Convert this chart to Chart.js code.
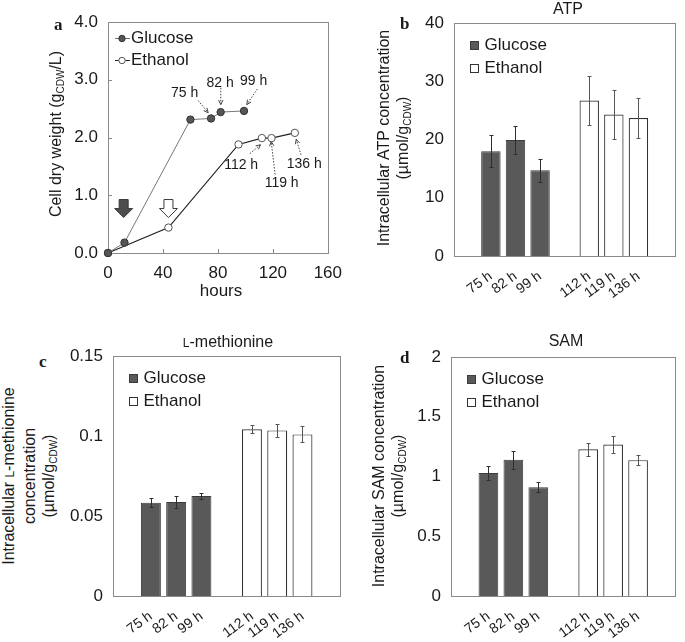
<!DOCTYPE html>
<html lang="en">
<head>
<meta charset="UTF-8">
<title>Cell growth and intracellular ATP, L-methionine and SAM</title>
<script src="https://cdn.jsdelivr.net/npm/chart.js@4"></script>
<style>
  body { margin: 0; background: #fff; }
  #fig { position: relative; width: 685px; height: 642px; font-family: "Liberation Sans", Arial, sans-serif; color: #1a1a1a; }
  #fig canvas { position: absolute; }
  .lbl { position: absolute; font-family: "Liberation Serif", "Times New Roman", serif; font-weight: bold; font-size: 17px; line-height: 17px; }
  .ttl { position: absolute; width: 200px; font-size: 16px; line-height: 16px; text-align: center; white-space: nowrap; }
  .ytitle { position: absolute; font-size: 16px; line-height: 19px; text-align: center; white-space: nowrap; transform: rotate(-90deg); }
  .sc { font-size: 12px; }
  sub { font-size: 10px; vertical-align: -3px; line-height: 0; }
</style>
</head>
<body>
<div id="fig">
  <canvas id="growth" width="290" height="300" style="left:62px;top:0px"></canvas>
  <canvas id="atp" width="275" height="300" style="left:410px;top:0px"></canvas>
  <canvas id="met" width="285" height="312" style="left:65px;top:330px"></canvas>
  <canvas id="sam" width="280" height="312" style="left:405px;top:330px"></canvas>

  <div class="lbl" style="left:54px;top:16px">a</div>
  <div class="lbl" style="left:400px;top:15px">b</div>
  <div class="lbl" style="left:39px;top:353px">c</div>
  <div class="lbl" style="left:400px;top:349px">d</div>

  <div class="ttl" style="left:468px;top:1px">ATP</div>
  <div class="ttl" style="left:128px;top:334px"><span class="sc">L</span>-methionine</div>
  <div class="ttl" style="left:466px;top:333px">SAM</div>
  <div class="ttl" style="left:121px;top:283px;font-size:17px">hours</div>

  <div class="ytitle" style="left:-74px;top:124px;width:260px;height:20px">Cell dry weight (g<sub>CDW</sub>/L)</div>
  <div class="ytitle" style="left:263px;top:119px;width:260px;height:38px">Intracellular ATP concentration<br>(µmol/g<sub>CDW</sub>)</div>
  <div class="ytitle" style="left:-102px;top:447px;width:260px;height:58px">Intracellular <span class="sc">L</span>-methionine<br>concentration<br>(µmol/g<sub>CDW</sub>)</div>
  <div class="ytitle" style="left:258px;top:457px;width:260px;height:38px">Intracellular SAM concentration<br>(µmol/g<sub>CDW</sub>)</div>
</div>

<script>
// growth curves (panel a)
const glucoseHours = [0, 12, 60, 75, 82, 99];
const glucoseCdw = [0, 0.18, 2.31, 2.33, 2.44, 2.46];
const ethanolHours = [0, 44, 95, 112, 119, 136];
const ethanolCdw = [0, 0.44, 1.88, 1.99, 1.99, 2.08];

// sampling points for the bar panels
const glucoseSamples = ['75 h', '82 h', '99 h'];
const ethanolSamples = ['112 h', '119 h', '136 h'];

const atpGlucose = [18.0, 19.9, 14.7];
const atpGlucoseSd = [2.8, 2.4, 1.95];
const atpEthanol = [26.7, 24.3, 23.7];
const atpEthanolSd = [4.2, 4.15, 3.45];

const metGlucose = [0.0583, 0.0587, 0.0625];
const metGlucoseSd = [0.0028, 0.0036, 0.002];
const metEthanol = [0.1042, 0.1035, 0.101];
const metEthanolSd = [0.0026, 0.004, 0.005];

const samGlucose = [1.03, 1.14, 0.91];
const samGlucoseSd = [0.061, 0.074, 0.04];
const samEthanol = [1.227, 1.268, 1.137];
const samEthanolSd = [0.056, 0.068, 0.042];

const FONT = '"Liberation Sans", Arial, sans-serif';
Chart.defaults.font.family = FONT;
Chart.defaults.color = '#1a1a1a';
Chart.defaults.animation = false;

// box around the plot area, optional inward ticks
const frame = {
  id: 'frame',
  beforeDatasetsDraw(chart, args, opts) {
    const { ctx, chartArea: a } = chart;
    ctx.save();
    ctx.strokeStyle = '#8a8a8a';
    ctx.lineWidth = 1;
    ctx.strokeRect(Math.round(a.left) + 0.5, Math.round(a.top) + 0.5,
      Math.round(a.right - a.left), Math.round(a.bottom - a.top));
    if (opts.ticks) {
      ctx.beginPath();
      chart.scales.x.ticks.forEach(t => {
        const px = Math.round(chart.scales.x.getPixelForValue(t.value)) + 0.5;
        ctx.moveTo(px, a.bottom); ctx.lineTo(px, a.bottom - 4);
      });
      chart.scales.y.ticks.forEach(t => {
        const py = Math.round(chart.scales.y.getPixelForValue(t.value)) + 0.5;
        ctx.moveTo(a.left, py); ctx.lineTo(a.left + 4, py);
      });
      ctx.stroke();
    }
    ctx.restore();
  }
};

// error bars from dataset.errors
const errorBars = {
  id: 'errorBars',
  afterDatasetsDraw(chart) {
    const ctx = chart.ctx, y = chart.scales.y;
    chart.data.datasets.forEach((ds, i) => {
      if (!ds.errors) return;
      const meta = chart.getDatasetMeta(i);
      ctx.save();
      ctx.strokeStyle = ds.errorColor;
      ctx.lineWidth = 1;
      ctx.beginPath();
      meta.data.forEach((bar, j) => {
        const v = ds.data[j], e = ds.errors[j];
        if (v == null || e == null) return;
        const x = Math.round(bar.x) + 0.5;
        const top = Math.round(y.getPixelForValue(v + e)) + 0.5;
        const bot = Math.round(y.getPixelForValue(v - e)) + 0.5;
        ctx.moveTo(x, top); ctx.lineTo(x, bot);
        ctx.moveTo(x - 2, top); ctx.lineTo(x + 2, top);
        ctx.moveTo(x - 2, bot); ctx.lineTo(x + 2, bot);
      });
      ctx.stroke();
      ctx.restore();
    });
  }
};

// legend drawn inside the plot, top left
const insideLegend = {
  id: 'insideLegend',
  afterDatasetsDraw(chart, args, opts) {
    const { ctx, chartArea: a } = chart;
    ctx.save();
    ctx.font = '17px ' + FONT;
    ctx.textBaseline = 'middle';
    chart.data.datasets.forEach((ds, i) => {
      const cy = a.top + opts.rows[i];
      if (chart.config.type === 'line') {
        const mx = a.left + opts.markX;
        ctx.strokeStyle = ds.borderColor;
        ctx.lineWidth = 1;
        ctx.beginPath();
        ctx.moveTo(mx - 7, cy); ctx.lineTo(mx + 8, cy);
        ctx.stroke();
        ctx.beginPath();
        ctx.arc(mx, cy, 3.2, 0, Math.PI * 2);
        ctx.fillStyle = ds.pointBackgroundColor;
        ctx.fill();
        ctx.strokeStyle = ds.pointBorderColor;
        ctx.stroke();
      } else {
        const bx = Math.round(a.left + opts.markX) + 0.5;
        const by = Math.round(cy - 5) + 0.5;
        ctx.fillStyle = ds.backgroundColor;
        ctx.fillRect(bx, by, 8, 8);
        ctx.strokeStyle = ds.borderColor;
        ctx.lineWidth = 1;
        ctx.strokeRect(bx, by, 8, 8);
      }
      ctx.fillStyle = '#1a1a1a';
      ctx.fillText(ds.label, a.left + opts.textX, cy);
    });
    ctx.restore();
  }
};

// sample-time notes and feed arrows on the growth curve
const growthNotes = {
  id: 'growthNotes',
  afterDatasetsDraw(chart, args, opts) {
    const { ctx } = chart, sx = chart.scales.x, sy = chart.scales.y;
    const P = (d) => [sx.getPixelForValue(d[0]), sy.getPixelForValue(d[1])];
    ctx.save();
    ctx.font = '14px ' + FONT;
    ctx.textAlign = 'center';
    ctx.textBaseline = 'middle';
    opts.notes.forEach(n => {
      const [tx, ty] = P(n.at);
      ctx.fillStyle = '#1a1a1a';
      ctx.fillText(n.text, tx, ty);
      const [x1, y1] = P(n.from), [x2, y2] = P(n.to);
      ctx.strokeStyle = '#444';
      ctx.lineWidth = 1;
      ctx.setLineDash([1.5, 1.5]);
      ctx.beginPath(); ctx.moveTo(x1, y1); ctx.lineTo(x2, y2); ctx.stroke();
      ctx.setLineDash([]);
      const ang = Math.atan2(y2 - y1, x2 - x1);
      ctx.beginPath();
      ctx.moveTo(x2 - 5 * Math.cos(ang - 0.45), y2 - 5 * Math.sin(ang - 0.45));
      ctx.lineTo(x2, y2);
      ctx.lineTo(x2 - 5 * Math.cos(ang + 0.45), y2 - 5 * Math.sin(ang + 0.45));
      ctx.stroke();
    });
    opts.feeds.forEach(f => {
      const [cx, cy] = P(f.at);
      ctx.beginPath();
      ctx.moveTo(cx - 4.5, cy - 9);
      ctx.lineTo(cx + 4.5, cy - 9);
      ctx.lineTo(cx + 4.5, cy);
      ctx.lineTo(cx + 9, cy);
      ctx.lineTo(cx, cy + 9);
      ctx.lineTo(cx - 9, cy);
      ctx.lineTo(cx - 4.5, cy);
      ctx.closePath();
      ctx.fillStyle = f.fill;
      ctx.fill();
      ctx.strokeStyle = '#3a3a3a';
      ctx.lineWidth = 1;
      ctx.stroke();
    });
    ctx.restore();
  }
};

const pts = (xs, ys) => xs.map((x, i) => ({ x, y: ys[i] }));

new Chart(document.getElementById('growth'), {
  type: 'line',
  data: {
    datasets: [{
      label: 'Glucose',
      data: pts(glucoseHours, glucoseCdw),
      borderColor: '#777',
      borderWidth: 1,
      pointBackgroundColor: '#555',
      pointBorderColor: '#333',
      pointRadius: 3.7,
      pointBorderWidth: 1,
      clip: false
    }, {
      label: 'Ethanol',
      data: pts(ethanolHours, ethanolCdw),
      borderColor: '#222',
      borderWidth: 1.2,
      pointBackgroundColor: '#fff',
      pointBorderColor: '#555',
      pointRadius: 3.7,
      pointBorderWidth: 1,
      clip: false
    }]
  },
  options: {
    responsive: false,
    devicePixelRatio: 1,
    layout: { padding: { left: 0, right: 18, top: 22, bottom: 0 } },
    scales: {
      x: {
        type: 'linear', min: 0, max: 160,
        grid: { display: false, drawTicks: false }, border: { display: false },
        ticks: { stepSize: 40, padding: 10, font: { size: 17 }, maxRotation: 0 },
        afterFit: s => { s.height = 47; }
      },
      y: {
        min: 0, max: 4,
        grid: { display: false, drawTicks: false }, border: { display: false },
        ticks: { stepSize: 1, padding: 10, font: { size: 17 }, callback: v => v.toFixed(1) },
        afterFit: s => { s.width = 46; }
      }
    },
    plugins: {
      legend: { display: false },
      tooltip: { enabled: false },
      frame: { ticks: true },
      insideLegend: { rows: [16.5, 38.5], markX: 14, textX: 23 },
      growthNotes: {
        notes: [
          { text: '75 h', at: [55.8, 2.77], from: [65.6, 2.64], to: [72.9, 2.43] },
          { text: '82 h', at: [81.6, 2.94], from: [82.1, 2.86], to: [82.1, 2.57] },
          { text: '99 h', at: [106, 2.97], from: [108.7, 2.84], to: [101, 2.57] },
          { text: '112 h', at: [96.9, 1.53], from: [103.3, 1.72], to: [111, 1.875] },
          { text: '119 h', at: [126.4, 1.21], from: [121.6, 1.36], to: [118.8, 1.93] },
          { text: '136 h', at: [142.8, 1.54], from: [140.5, 1.7], to: [137, 1.97] }
        ],
        feeds: [
          { at: [11.4, 0.77], fill: '#4d4d4d' },
          { at: [44, 0.77], fill: '#fff' }
        ]
      }
    }
  },
  plugins: [frame, insideLegend, growthNotes]
});

// bar panels: glucose group, gap, ethanol group, with an empty slot at each end
function barPanel(id, glc, glcSd, eth, ethSd, yMax, yStep, fmt, yWidth, pad) {
  const blank = [null, null, null];
  const labels = ['', ...glucoseSamples, '', ...ethanolSamples, ''];
  return new Chart(document.getElementById(id), {
    type: 'bar',
    data: {
      labels,
      datasets: [{
        label: 'Glucose',
        data: [null, ...glc, null, ...blank, null],
        errors: [null, ...glcSd, null, ...blank, null],
        backgroundColor: '#595959',
        borderColor: '#3c3c3c',
        borderWidth: 1,
        errorColor: '#2e2e2e',
        grouped: false,
        barPercentage: 0.79,
        categoryPercentage: 1
      }, {
        label: 'Ethanol',
        data: [null, ...blank, null, ...eth, null],
        errors: [null, ...blank, null, ...ethSd, null],
        backgroundColor: '#fff',
        borderColor: '#333',
        borderWidth: 1.2,
        errorColor: '#555',
        grouped: false,
        barPercentage: 0.79,
        categoryPercentage: 1
      }]
    },
    options: {
      responsive: false,
      devicePixelRatio: 1,
      layout: { padding: { left: 0, right: pad.right, top: pad.top, bottom: 0 } },
      scales: {
        x: {
          grid: { display: false, drawTicks: false }, border: { display: false },
          ticks: { padding: 12, font: { size: 14 }, minRotation: 36, maxRotation: 36, autoSkip: false },
          afterFit: s => { s.height = pad.xh; }
        },
        y: {
          min: 0, max: yMax,
          grid: { display: false, drawTicks: false }, border: { display: false },
          ticks: { stepSize: yStep, padding: 10, font: { size: 17 }, callback: fmt },
          afterFit: s => { s.width = yWidth; }
        }
      },
      plugins: {
        legend: { display: false },
        tooltip: { enabled: false },
        frame: { ticks: false },
        insideLegend: { rows: [22.8, 45.5], markX: 15.5, textX: 30.5 }
      }
    },
    plugins: [frame, errorBars, insideLegend]
  });
}

barPanel('atp', atpGlucose, atpGlucoseSd, atpEthanol, atpEthanolSd, 40, 10,
  v => v, 44, { right: 2, top: 23, xh: 44 });
barPanel('met', metGlucose, metGlucoseSd, metEthanol, metEthanolSd, 0.15, 0.05,
  v => +v.toFixed(2), 48, { right: 7, top: 26, xh: 46 });
barPanel('sam', samGlucose, samGlucoseSd, samEthanol, samEthanolSd, 2, 0.5,
  v => +v.toFixed(1), 46, { right: 2, top: 27, xh: 46 });
</script>
</body>
</html>
